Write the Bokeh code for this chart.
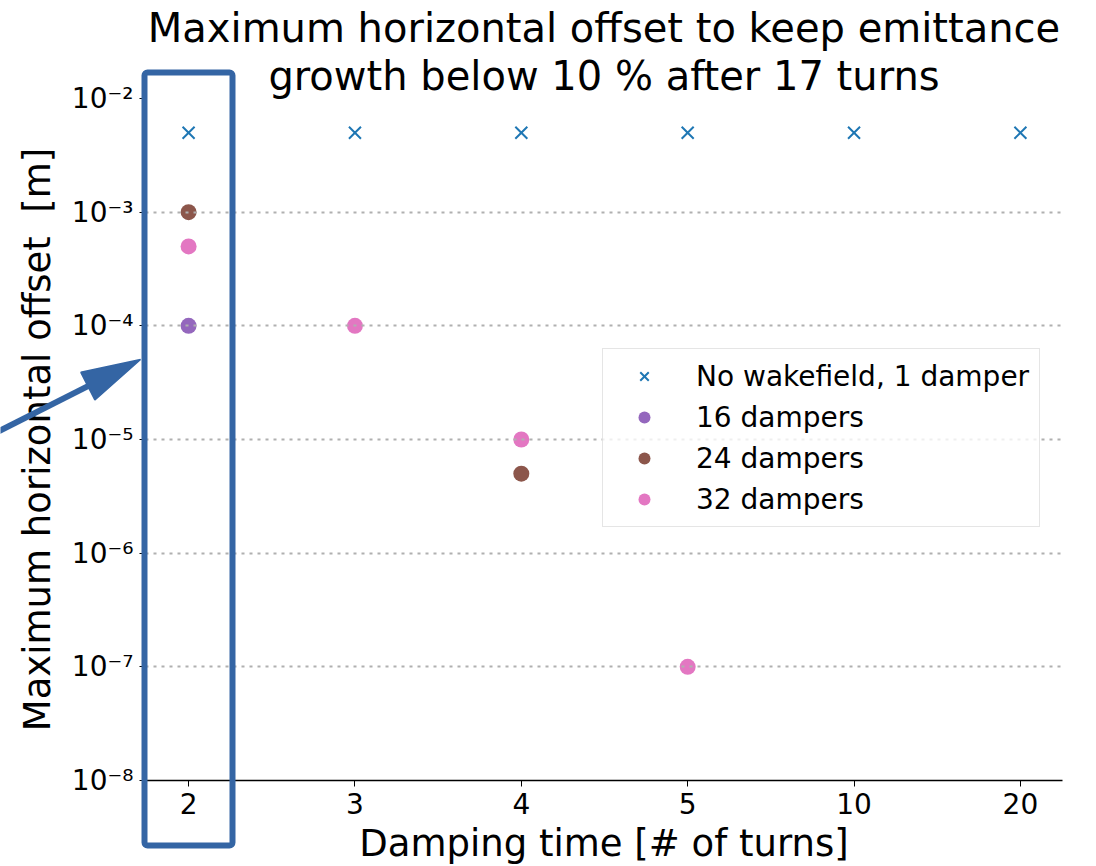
import math
from bokeh.plotting import figure
from bokeh.models import (Title, BoxAnnotation, FixedTicker,
                          LogTicker, CustomJSTickFormatter, Range1d, Legend, LegendItem)
from bokeh.embed import file_html
from bokeh.resources import INLINE

# ---- data ----
damping_labels = ["2", "3", "4", "5", "10", "20"]
nowake_x = ["2", "3", "4", "5", "10", "20"]
nowake_y = [5e-3, 5e-3, 5e-3, 5e-3, 5e-3, 5e-3]
d16_x = ["2"]
d16_y = [1e-4]
d24_x = ["2", "4"]
d24_y = [1e-3, 5e-6]
d32_x = ["2", "3", "4", "5"]
d32_y = [5e-4, 1e-4, 1e-5, 1e-7]

idx = {lab: i for i, lab in enumerate(damping_labels)}
def pos(labels):
    return [idx[l] for l in labels]

FONT = "DejaVu Sans"
BLUE_ANN = "#3465a4"
W, H = 1096, 866

p = figure(frame_width=917, frame_height=682, y_axis_type="log",
           x_range=Range1d(-0.259, 5.253), y_range=Range1d(1e-8, 1e-2),
           output_backend="svg", toolbar_location=None, title=None,
           min_border_left=145, min_border_right=34, min_border_top=98,
           min_border_bottom=86)
p.outline_line_color = None
p.background_fill_color = "white"

# titles (bottom line added first: it sits closest to the frame)
for txt in ["growth below 10 % after 17 turns", "Maximum horizontal offset to keep emittance"]:
    p.add_layout(Title(text=txt, align="center", text_font=FONT, text_font_size="40px",
                       text_font_style="normal", text_color="black", standoff=0, offset=0,
                       text_line_height=1.0), "above")

# glyphs
r0 = p.scatter(pos(nowake_x), nowake_y, marker="x", size=17, line_width=2, color="#1f77b4")
r1 = p.scatter(pos(d16_x), d16_y, marker="circle", size=16, line_color=None, fill_color="#9467bd")
r2 = p.scatter(pos(d24_x), d24_y, marker="circle", size=16, line_color=None, fill_color="#8c564b")
r3 = p.scatter(pos(d32_x), d32_y, marker="circle", size=16, line_color=None, fill_color="#e377c2")

# axes
xa = p.xaxis[0]
xa.ticker = FixedTicker(ticks=list(range(len(damping_labels))))
xa.major_label_overrides = {i: l for i, l in enumerate(damping_labels)}
xa.minor_tick_line_color = None
xa.major_tick_out = 6
xa.major_tick_in = 0
xa.major_tick_line_color = "black"
xa.axis_line_color = "black"
xa.axis_line_width = 1.5
xa.major_label_text_font = FONT
xa.major_label_text_font_size = "28px"
xa.major_label_text_color = "black"
xa.major_label_standoff = 6
xa.axis_label = "Damping time [# of turns]"
xa.axis_label_text_font = FONT
xa.axis_label_text_font_size = "37px"
xa.axis_label_text_font_style = "normal"
xa.axis_label_text_color = "black"
xa.axis_label_standoff = 5

ya = p.yaxis[0]
ya.ticker = LogTicker(mantissas=[1], num_minor_ticks=10, desired_num_ticks=7)
ya.formatter = CustomJSTickFormatter(code="""
const e = Math.round(Math.log10(tick));
const sup = {'-':'\u207b','0':'\u2070','1':'\u00b9','2':'\u00b2','3':'\u00b3','4':'\u2074','5':'\u2075','6':'\u2076','7':'\u2077','8':'\u2078','9':'\u2079'};
return '10' + String(e).split('').map(c => sup[c]).join('');
""")
ya.axis_line_color = None
ya.major_tick_out = 6
ya.major_tick_in = 0
ya.major_tick_line_color = "black"
ya.minor_tick_out = 3
ya.minor_tick_in = 0
ya.minor_tick_line_color = "black"
ya.major_label_text_font = FONT
ya.major_label_text_font_size = "28px"
ya.major_label_text_color = "black"
ya.major_label_standoff = 6
ya.axis_label = "Maximum horizontal offset\u00a0 [m]"
ya.axis_label_text_font = FONT
ya.axis_label_text_font_size = "37px"
ya.axis_label_text_font_style = "normal"
ya.axis_label_text_color = "black"
ya.axis_label_standoff = 10

p.xgrid.visible = False
p.ygrid.grid_line_color = "#b0b0b0"
p.ygrid.grid_line_dash = "3 5"
p.ygrid.grid_line_width = 2
p.ygrid.level = "guide"

# legend
legend = Legend(items=[
    LegendItem(label="No wakefield, 1 damper", renderers=[r0]),
    LegendItem(label="16 dampers", renderers=[r1]),
    LegendItem(label="24 dampers", renderers=[r2]),
    LegendItem(label="32 dampers", renderers=[r3]),
], location=(457, 253))
legend.label_text_font = FONT
legend.label_text_font_size = "28px"
legend.label_text_color = "black"
legend.glyph_width = 62
legend.glyph_height = 30
legend.label_height = 34
legend.label_standoff = 21
legend.spacing = 7
legend.padding = 10
legend.margin = 0
legend.border_line_color = "#cccccc"
legend.border_line_width = 1.5
legend.background_fill_alpha = 0.8
p.add_layout(legend, "center")

# ---- transparent overlay (page pixel coordinates) for the highlight box and arrow ----
BOX_LEFT, BOX_RIGHT, BOX_TOP, BOX_BOTTOM = 144, 232, 72, 845
ARROW_TAIL = (-10, 435)
ARROW_TIP = (140, 359)
HEAD_LEN, HEAD_HALF_W = 59, 15.5

ov = figure(width=W, height=H, x_range=Range1d(0, W), y_range=Range1d(H, 0),
            output_backend="svg", toolbar_location=None, title=None,
            x_axis_location=None, y_axis_location=None, min_border=0)
ov.background_fill_alpha = 0
ov.border_fill_alpha = 0
ov.outline_line_color = None
ov.xgrid.visible = False
ov.ygrid.visible = False
ov.styles = {"position": "absolute", "left": "0px", "top": "0px"}
ov.add_layout(BoxAnnotation(left=BOX_LEFT, right=BOX_RIGHT, top=BOX_TOP, bottom=BOX_BOTTOM,
                            fill_alpha=0, line_color=BLUE_ANN, line_alpha=1.0, line_width=6,
                            border_radius=3))

dx, dy = ARROW_TIP[0] - ARROW_TAIL[0], ARROW_TIP[1] - ARROW_TAIL[1]
L = math.hypot(dx, dy)
ux, uy = dx / L, dy / L
nx, ny = -uy, ux
bx, by = ARROW_TIP[0] - HEAD_LEN * ux, ARROW_TIP[1] - HEAD_LEN * uy
ov.line([ARROW_TAIL[0], bx + 4 * ux], [ARROW_TAIL[1], by + 4 * uy],
        line_color=BLUE_ANN, line_width=6)
ov.patch([ARROW_TIP[0], bx + HEAD_HALF_W * nx, bx - HEAD_HALF_W * nx],
         [ARROW_TIP[1], by + HEAD_HALF_W * ny, by - HEAD_HALF_W * ny],
         fill_color=BLUE_ANN, line_color=BLUE_ANN, line_width=1.5)

with open("out.html", "w", encoding="utf-8") as f:
    f.write(file_html([p, ov], INLINE))
